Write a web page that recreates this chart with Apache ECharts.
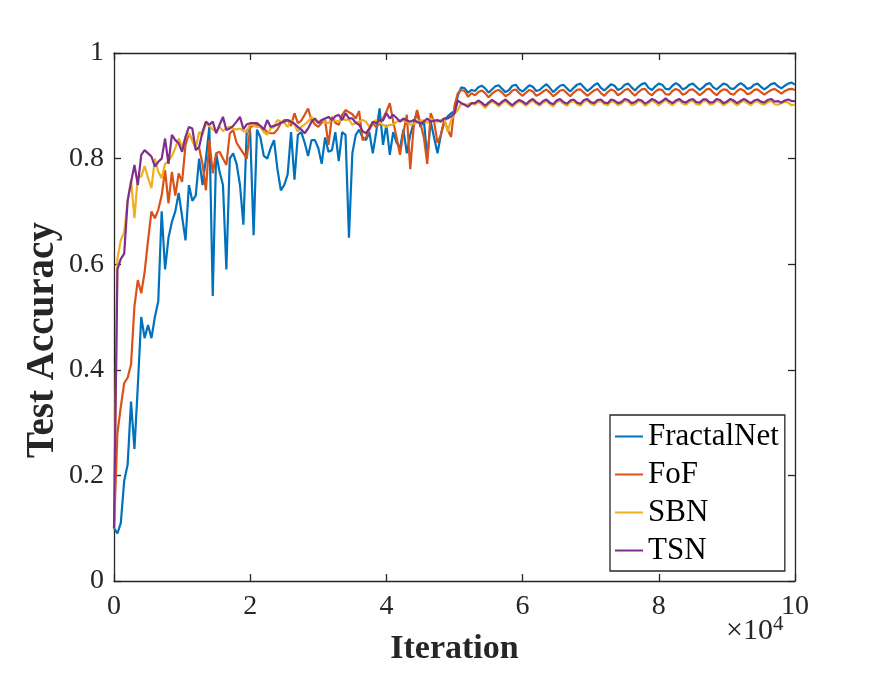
<!DOCTYPE html>
<html>
<head>
<meta charset="utf-8">
<script src="https://cdn.jsdelivr.net/npm/echarts@6/dist/echarts.min.js"></script>
<style>
  html, body { margin: 0; padding: 0; background: #fff; }
  #chart { width: 877px; height: 675px; }
</style>
</head>
<body>
<div id="chart"></div>
<script>
// sampled every 500 iterations, x axis shown in units of 1e4
const step = 0.05;

const fractalNet = [
  0.10,0.09,0.11,0.19,0.22,0.34,0.25,0.37,0.50,0.46,
  0.485,0.46,0.50,0.53,0.70,0.59,0.65,0.68,0.70,0.735,
  0.69,0.645,0.75,0.72,0.73,0.80,0.75,0.80,0.86,0.54,
  0.81,0.775,0.75,0.59,0.80,0.81,0.79,0.75,0.675,0.855,
  0.85,0.655,0.855,0.84,0.805,0.80,0.82,0.835,0.78,0.74,
  0.75,0.77,0.85,0.76,0.845,0.85,0.83,0.805,0.835,0.835,
  0.82,0.79,0.84,0.813,0.816,0.85,0.795,0.85,0.845,0.65,
  0.81,0.845,0.855,0.84,0.835,0.85,0.81,0.85,0.895,0.826,
  0.864,0.807,0.85,0.83,0.82,0.855,0.81,0.845,0.867,0.889,
  0.86,0.873,0.80,0.87,0.84,0.81,0.845,0.87,0.88,0.886,
  0.89,0.92,0.935,0.933,0.925,0.93,
  0.928,0.935,0.938,0.933,0.925, 0.931,0.937,0.939,0.932,0.926,
  0.930,0.938,0.940,0.931,0.927, 0.933,0.939,0.936,0.928,0.930,
  0.936,0.941,0.934,0.926,0.932, 0.938,0.940,0.933,0.927,0.934,
  0.940,0.942,0.935,0.928,0.933, 0.939,0.943,0.934,0.929,0.935,
  0.941,0.938,0.930,0.933,0.940, 0.942,0.935,0.929,0.936,0.941,
  0.943,0.934,0.930,0.937,0.942, 0.940,0.932,0.931,0.938,0.943,
  0.939,0.931,0.934,0.940,0.942, 0.936,0.930,0.935,0.941,0.943,
  0.935,0.931,0.937,0.942,0.940, 0.933,0.932,0.938,0.943,0.939,
  0.932,0.934,0.940,0.942,0.936, 0.931,0.936,0.941,0.943,0.937,
  0.933,0.938,0.942,0.944,0.940
];

const fof = [
  0.10,0.28,0.33,0.375,0.385,0.41,0.52,0.57,0.545,0.585,
  0.645,0.70,0.687,0.703,0.73,0.778,0.715,0.775,0.73,0.772,
  0.756,0.826,0.848,0.835,0.82,0.82,0.79,0.74,0.835,0.772,
  0.81,0.813,0.80,0.788,0.848,0.854,0.83,0.82,0.81,0.80,
  0.86,0.862,0.864,0.86,0.857,0.85,0.848,0.848,0.855,0.867,
  0.873,0.873,0.862,0.886,0.867,0.872,0.883,0.895,0.873,0.865,
  0.86,0.868,0.873,0.826,0.879,0.868,0.864,0.883,0.892,0.888,
  0.884,0.876,0.89,0.835,0.84,0.855,0.867,0.86,0.866,0.876,
  0.889,0.905,0.87,0.84,0.807,0.85,0.883,0.78,0.86,0.892,
  0.867,0.84,0.79,0.886,0.87,0.83,0.845,0.873,0.855,0.841,
  0.90,0.924,0.93,0.928,0.917,0.924,
  0.920,0.926,0.929,0.924,0.916, 0.923,0.928,0.930,0.925,0.918,
  0.922,0.929,0.931,0.924,0.919, 0.925,0.930,0.927,0.919,0.922,
  0.927,0.931,0.925,0.918,0.923, 0.929,0.930,0.924,0.918,0.925,
  0.930,0.931,0.925,0.919,0.924, 0.929,0.932,0.924,0.919,0.926,
  0.931,0.928,0.920,0.924,0.930, 0.932,0.925,0.919,0.926,0.931,
  0.932,0.924,0.920,0.927,0.931, 0.930,0.922,0.921,0.928,0.932,
  0.929,0.921,0.924,0.930,0.931, 0.926,0.920,0.925,0.931,0.932,
  0.925,0.920,0.927,0.931,0.930, 0.923,0.921,0.928,0.932,0.929,
  0.922,0.924,0.930,0.931,0.926, 0.921,0.926,0.930,0.932,0.928,
  0.923,0.928,0.931,0.932,0.930
];

const sbn = [
  0.10,0.61,0.646,0.66,0.72,0.76,0.687,0.766,0.766,0.786,
  0.763,0.744,0.80,0.775,0.763,0.79,0.795,0.805,0.82,0.838,
  0.822,0.841,0.848,0.835,0.82,0.85,0.845,0.866,0.862,0.855,
  0.851,0.86,0.852,0.858,0.86,0.857,0.855,0.857,0.852,0.851,
  0.866,0.862,0.86,0.86,0.85,0.845,0.857,0.86,0.873,0.87,
  0.868,0.86,0.873,0.865,0.851,0.86,0.865,0.87,0.879,0.872,
  0.87,0.873,0.87,0.867,0.876,0.872,0.87,0.876,0.873,0.874,
  0.864,0.868,0.87,0.873,0.87,0.86,0.868,0.873,0.868,0.864,
  0.86,0.864,0.864,0.87,0.873,0.872,0.87,0.864,0.866,0.868,
  0.873,0.87,0.868,0.876,0.872,0.87,0.873,0.876,0.851,0.873,
  0.885,0.892,0.905,0.902,0.903,0.905,
  0.902,0.907,0.903,0.896,0.903, 0.908,0.905,0.899,0.905,0.909,
  0.903,0.898,0.904,0.909,0.905, 0.900,0.906,0.910,0.904,0.900,
  0.906,0.909,0.903,0.899,0.907, 0.910,0.904,0.900,0.907,0.909,
  0.903,0.900,0.908,0.910,0.904, 0.901,0.908,0.909,0.903,0.901,
  0.909,0.907,0.901,0.904,0.910, 0.908,0.901,0.903,0.909,0.907,
  0.900,0.905,0.910,0.906,0.901, 0.906,0.911,0.905,0.901,0.907,
  0.910,0.904,0.902,0.908,0.910, 0.903,0.902,0.909,0.909,0.902,
  0.904,0.910,0.907,0.901,0.905, 0.910,0.906,0.901,0.906,0.910,
  0.905,0.901,0.907,0.909,0.904, 0.902,0.907,0.909,0.903,0.902,
  0.905,0.908,0.906,0.901,0.902
];

const tsn = [
  0.10,0.59,0.61,0.62,0.72,0.755,0.788,0.75,0.807,0.816,
  0.81,0.804,0.785,0.794,0.80,0.838,0.79,0.845,0.835,0.829,
  0.813,0.841,0.86,0.857,0.816,0.822,0.851,0.87,0.864,0.87,
  0.848,0.864,0.879,0.854,0.857,0.862,0.87,0.879,0.856,0.865,
  0.867,0.867,0.867,0.862,0.855,0.873,0.86,0.862,0.864,0.868,
  0.87,0.873,0.87,0.866,0.86,0.855,0.848,0.857,0.87,0.876,
  0.867,0.873,0.876,0.879,0.873,0.88,0.883,0.873,0.886,0.876,
  0.876,0.868,0.864,0.852,0.848,0.857,0.87,0.867,0.873,0.872,
  0.886,0.876,0.883,0.877,0.87,0.876,0.872,0.87,0.873,0.87,
  0.867,0.87,0.876,0.87,0.872,0.873,0.87,0.876,0.876,0.88,
  0.886,0.91,0.905,0.902,0.898,0.905,
  0.905,0.910,0.906,0.900,0.906, 0.911,0.907,0.902,0.908,0.912,
  0.906,0.901,0.907,0.911,0.908, 0.903,0.909,0.913,0.907,0.903,
  0.909,0.912,0.906,0.903,0.910, 0.913,0.907,0.904,0.910,0.912,
  0.906,0.904,0.911,0.913,0.907, 0.905,0.911,0.912,0.906,0.905,
  0.912,0.910,0.905,0.907,0.913, 0.911,0.905,0.907,0.912,0.910,
  0.904,0.908,0.913,0.910,0.905, 0.909,0.914,0.909,0.905,0.910,
  0.913,0.908,0.906,0.911,0.913, 0.907,0.906,0.912,0.912,0.906,
  0.907,0.913,0.911,0.905,0.908, 0.913,0.910,0.905,0.909,0.913,
  0.909,0.905,0.910,0.912,0.908, 0.906,0.911,0.913,0.908,0.909,
  0.906,0.910,0.912,0.909,0.909
];

const seriesNames = ['FractalNet', 'FoF', 'SBN', 'TSN'];
const seriesColors = ['#0072BD', '#D95319', '#EDB120', '#7E2F8E'];
const seriesValues = [fractalNet, fof, sbn, tsn];

const font = 'Liberation Serif';
const axisColor = '#262626';

const chart = echarts.init(document.getElementById('chart'));

const toPairs = (arr) => arr.map((v, i) => [+(i * step).toFixed(2), v]);

const lineStyle = { color: axisColor, width: 1.3 };

const mirrorAxis = {
  axisLine: { show: true, onZero: false, lineStyle: lineStyle },
  axisTick: { show: true, inside: true, length: 7, lineStyle: lineStyle },
  axisLabel: { show: false },
  splitLine: { show: false }
};

const option = {
  animation: false,
  backgroundColor: '#fff',
  grid: { left: 114, right: 82, top: 53, bottom: 94 },
  xAxis: [
    {
      type: 'value', min: 0, max: 10, interval: 2, position: 'bottom',
      name: 'Iteration', nameLocation: 'middle', nameGap: 51,
      nameTextStyle: { fontFamily: font, fontSize: 34, fontWeight: 'bold', color: axisColor },
      axisLine: { show: true, onZero: false, lineStyle: lineStyle },
      axisTick: { show: true, inside: true, length: 7, lineStyle: lineStyle },
      axisLabel: { fontFamily: font, fontSize: 28, color: axisColor, margin: 12 },
      splitLine: { show: false }
    },
    Object.assign({ type: 'value', min: 0, max: 10, interval: 2, position: 'top' }, mirrorAxis)
  ],
  yAxis: [
    {
      type: 'value', min: 0, max: 1, interval: 0.2, position: 'left',
      axisLine: { show: true, onZero: false, lineStyle: lineStyle },
      axisTick: { show: true, inside: true, length: 7, lineStyle: lineStyle },
      axisLabel: {
        fontFamily: font, fontSize: 28, color: axisColor, margin: 10,
        formatter: (v) => (v === 0 || v === 1) ? String(v) : v.toFixed(1)
      },
      splitLine: { show: false }
    },
    Object.assign({ type: 'value', min: 0, max: 1, interval: 0.2, position: 'right' }, mirrorAxis)
  ],
  legend: {
    orient: 'vertical',
    left: 610, top: 415,
    data: seriesNames,
    icon: 'rect',
    itemWidth: 28, itemHeight: 2,
    itemGap: 7,
    padding: [6, 6, 5, 5],
    borderColor: axisColor, borderWidth: 1.3,
    backgroundColor: '#fff',
    textStyle: { fontFamily: font, fontSize: 31, color: '#000', lineHeight: 31 }
  },
  graphic: [
    {
      type: 'text', x: 43, y: 340, rotation: Math.PI / 2,
      style: {
        text: 'Test Accuracy',
        font: 'bold 39px "Liberation Serif"',
        fill: axisColor,
        align: 'center', verticalAlign: 'middle'
      }
    },
    {
      type: 'text', left: 726, top: 614,
      style: {
        text: '×10{sup|4}',
        font: '30px "Liberation Serif"',
        fill: axisColor,
        rich: { sup: { fontSize: 21, fontFamily: font, verticalAlign: 'top', padding: [0, 0, 13, 0] } }
      }
    }
  ],
  series: seriesNames.map((name, k) => ({
    name: name,
    type: 'line',
    xAxisIndex: 0, yAxisIndex: 0,
    data: toPairs(seriesValues[k]),
    showSymbol: false,
    symbol: 'none',
    lineStyle: { color: seriesColors[k], width: 2.2 },
    itemStyle: { color: seriesColors[k] },
    z: 2 + k
  }))
};

chart.setOption(option);
</script>
</body>
</html>
